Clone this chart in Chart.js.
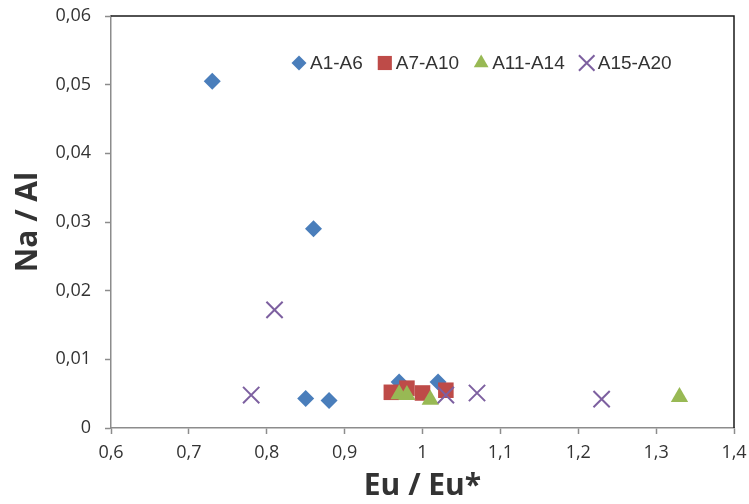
<!DOCTYPE html>
<html>
<head>
<meta charset="utf-8">
<script src="https://cdn.jsdelivr.net/npm/chart.js@4.4.1/dist/chart.umd.min.js"></script>
<style>
  html, body { margin: 0; padding: 0; background: #fff; }
  #wrap { width: 749px; height: 504px; }
</style>
</head>
<body>
<div id="wrap"><canvas id="chart" width="749" height="504"></canvas></div>
<script>
// Eu anomaly vs Na/Al, one group of samples per series
const groupNames = ["A1-A6", "A7-A10", "A11-A14", "A15-A20"];

const euA1 = [0.73, 0.86, 0.85, 0.88, 0.97, 1.02];
const naA1 = [0.0505, 0.029, 0.0043, 0.0040, 0.0067, 0.0067];

const euA7 = [0.96, 0.98, 1.0, 1.03];
const naA7 = [0.0052, 0.0058, 0.0051, 0.0055];

const euA11 = [0.97, 0.98, 1.01, 1.33];
const naA11 = [0.0049, 0.0048, 0.0041, 0.0045];

const euA15 = [0.78, 0.81, 1.03, 1.07, 1.23];
const naA15 = [0.0048, 0.0172, 0.0048, 0.0051, 0.0042];

const xTicks = [0.6, 0.7, 0.8, 0.9, 1, 1.1, 1.2, 1.3, 1.4];
const yTicks = [0, 0.01, 0.02, 0.03, 0.04, 0.05, 0.06];

const toPoints = (xs, ys) => xs.map((x, i) => ({ x, y: ys[i] }));
const comma = (v, d) => (v === 0 ? "0" : v === 1 ? "1" : v.toFixed(d).replace(".", ","));

const FONT = "'Open Sans', 'Liberation Sans', sans-serif";
const TEXT = "#333333";
const AXIS = "#8c8c8c";

// black frame on the top and right of the plot area
const frame = {
  id: "frame",
  afterDatasetsDraw(chart) {
    const { ctx, chartArea: a } = chart;
    ctx.save();
    ctx.strokeStyle = "#1a1a1a";
    ctx.lineWidth = 1.5;
    ctx.beginPath();
    ctx.moveTo(a.left, a.top);
    ctx.lineTo(a.right, a.top);
    ctx.lineTo(a.right, a.bottom);
    ctx.stroke();
    ctx.restore();
  },
};

// one-row legend drawn inside the plot area, near the top
const legendMarkerSize = [7.5, 10, 8.5, 11];
const rowLegend = {
  id: "rowLegend",
  afterDraw(chart) {
    const { ctx, chartArea: a } = chart;
    let x = a.left + 179;
    const y = a.top + 47;
    ctx.save();
    ctx.font = "19px 'Liberation Sans', Arial, sans-serif";
    ctx.textBaseline = "middle";
    chart.data.datasets.forEach((ds, i) => {
      ctx.fillStyle = ds.backgroundColor;
      ctx.strokeStyle = ds.borderColor;
      ctx.lineWidth = ds.borderWidth || 0.001;
      Chart.helpers.drawPoint(ctx, {
        pointStyle: ds.pointStyle,
        radius: legendMarkerSize[i],
        borderWidth: ds.borderWidth,
        rotation: 0,
      }, x + 9, y);
      ctx.fillStyle = TEXT;
      ctx.fillText(ds.label, x + 20, y + 1);
      x += 20 + ctx.measureText(ds.label).width + 13;
    });
    ctx.restore();
  },
};

// keep edge labels from pushing the plot area inwards
const noOverflow = (axis) => {
  axis.paddingTop = 0;
  axis.paddingBottom = 0;
  axis.paddingLeft = 0;
  axis.paddingRight = 0;
};

new Chart(document.getElementById("chart"), {
  type: "scatter",
  data: {
    datasets: [
      {
        label: groupNames[0],
        data: toPoints(euA1, naA1),
        order: 3,
        pointStyle: "rectRot",
        radius: 8.5,
        backgroundColor: "#4a7ebb",
        borderColor: "#4a7ebb",
        borderWidth: 0,
      },
      {
        label: groupNames[1],
        data: toPoints(euA7, naA7),
        order: 2,
        pointStyle: "rect",
        radius: 11,
        backgroundColor: "#be4b48",
        borderColor: "#be4b48",
        borderWidth: 0,
      },
      {
        label: groupNames[2],
        data: toPoints(euA11, naA11),
        order: 1,
        pointStyle: "triangle",
        radius: 10,
        backgroundColor: "#98b954",
        borderColor: "#98b954",
        borderWidth: 0,
      },
      {
        label: groupNames[3],
        data: toPoints(euA15, naA15),
        order: 0,
        pointStyle: "crossRot",
        radius: 11.5,
        backgroundColor: "#7d60a0",
        borderColor: "#7d60a0",
        borderWidth: 2,
      },
    ],
  },
  options: {
    responsive: false,
    animation: false,
    events: [],
    layout: { padding: { top: 16, right: 15, left: 0, bottom: 0 } },
    scales: {
      x: {
        type: "linear",
        min: 0.6,
        max: 1.4,
        afterBuildTicks(axis) {
          axis.ticks = xTicks.map((value) => ({ value }));
        },
        afterFit(axis) {
          axis.height = 76;
          noOverflow(axis);
        },
        ticks: {
          callback: (v) => comma(v, 1),
          color: TEXT,
          font: { family: FONT, size: 18 },
          padding: 8,
          maxRotation: 0,
        },
        grid: {
          drawOnChartArea: false,
          color: AXIS,
          tickLength: 6,
          tickWidth: 1.5,
        },
        border: { color: AXIS, width: 1.5 },
        title: {
          display: true,
          text: "Eu / Eu*",
          color: TEXT,
          font: { family: FONT, size: 30, weight: "bold" },
          padding: { top: 4, bottom: 0 },
        },
      },
      y: {
        type: "linear",
        min: 0,
        max: 0.06,
        afterBuildTicks(axis) {
          axis.ticks = yTicks.map((value) => ({ value }));
        },
        afterFit(axis) {
          axis.width = 111;
          noOverflow(axis);
        },
        ticks: {
          callback: (v) => comma(v, 2),
          color: TEXT,
          font: { family: FONT, size: 18 },
          padding: 14,
        },
        grid: {
          drawOnChartArea: false,
          color: AXIS,
          tickLength: 6,
          tickWidth: 1.5,
        },
        border: { color: AXIS, width: 1.5 },
        title: {
          display: true,
          text: "Na / Al",
          color: TEXT,
          font: { family: FONT, size: 30, weight: "bold" },
          padding: { top: 10, bottom: 0 },
        },
      },
    },
    plugins: {
      legend: { display: false },
      tooltip: { enabled: false },
    },
  },
  plugins: [frame, rowLegend],
});
</script>
</body>
</html>
